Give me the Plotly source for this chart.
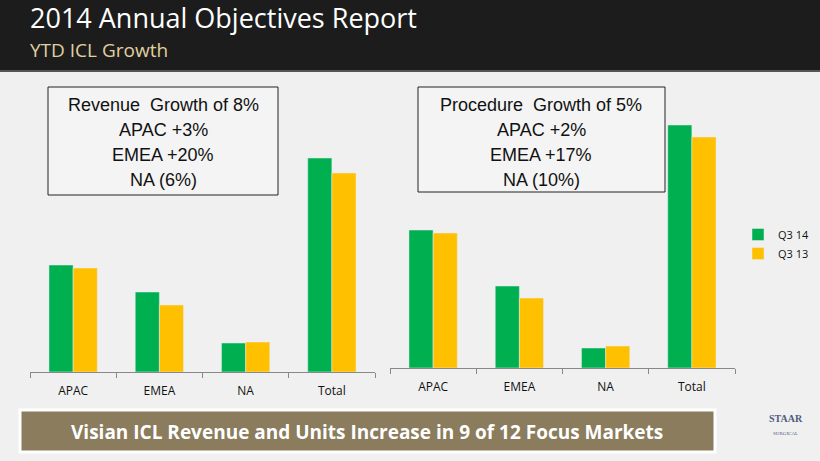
import plotly.graph_objects as go

cats = ["APAC", "EMEA", "NA", "Total"]
rev_q314 = [107, 80, 29, 214]
rev_q313 = [104, 67, 30, 199]
proc_q314 = [138, 82, 20, 243]
proc_q313 = [135, 70, 22, 231]
left_text = ["Revenue  Growth of 8%", "APAC +3%", "EMEA +20%", "NA (6%)"]
right_text = ["Procedure  Growth of 5%", "APAC +2%", "EMEA +17%", "NA (10%)"]

W, H = 820, 461
GREEN, GOLD = "#00b050", "#ffc000"
def px(x): return x / W
def py(y): return 1 - y / H

fig = go.Figure()
fig.add_bar(x=cats, y=rev_q314, name="Q3 14", marker_color=GREEN, xaxis="x", yaxis="y")
fig.add_bar(x=cats, y=rev_q313, name="Q3 13", marker_color=GOLD, xaxis="x", yaxis="y")
fig.add_bar(x=cats, y=proc_q314, name="Q3 14", marker_color=GREEN, xaxis="x2", yaxis="y2", showlegend=False)
fig.add_bar(x=cats, y=proc_q313, name="Q3 13", marker_color=GOLD, xaxis="x2", yaxis="y2", showlegend=False)

ax = dict(showgrid=False, showline=True, linecolor="#888", ticks="outside", tickcolor="#888",
          ticklen=5, tickson="boundaries", ticklabelstandoff=8,
          tickfont=dict(family="Open Sans", size=12, color="#111"), fixedrange=True)
ay = dict(visible=False, fixedrange=True)
fig.update_layout(
    width=W, height=H, margin=dict(l=0, r=0, t=0, b=0),
    paper_bgcolor="#f0f0f0", plot_bgcolor="rgba(0,0,0,0)",
    barmode="group", bargap=0.44, bargroupgap=0,
    xaxis=dict(domain=[px(30), px(375)], anchor="y", **ax),
    yaxis=dict(domain=[py(372), py(80)], range=[0, 292], **ay),
    xaxis2=dict(domain=[px(390), px(735)], anchor="y2", **ax),
    yaxis2=dict(domain=[py(368), py(80)], range=[0, 288], **ay),
    legend=dict(x=px(738), y=py(220), xanchor="left", yanchor="top",
                font=dict(family="Open Sans", size=11, color="#111"),
                bgcolor="rgba(0,0,0,0)", tracegroupgap=6),
    showlegend=True,
)

shapes = [
    dict(type="rect", xref="paper", yref="paper", x0=0, x1=1, y0=py(70), y1=1,
         fillcolor="#1c1c1c", line_width=0, layer="below"),
    dict(type="rect", xref="paper", yref="paper", x0=0, x1=1, y0=py(72), y1=py(70),
         fillcolor="#555", line_width=0, layer="below"),
    dict(type="rect", xref="paper", yref="paper", x0=px(48), x1=px(278), y0=py(195), y1=py(87),
         fillcolor="#f4f4f4", line=dict(color="#222", width=1)),
    dict(type="rect", xref="paper", yref="paper", x0=px(418), x1=px(665), y0=py(192), y1=py(87),
         fillcolor="#f4f4f4", line=dict(color="#222", width=1)),
    dict(type="rect", xref="paper", yref="paper", x0=px(20), x1=px(715), y0=py(452), y1=py(410),
         fillcolor="#8a7c5c", line=dict(color="#ffffff", width=3)),
]
ann = [
    dict(text="2014 Annual Objectives Report", x=px(28), y=py(17), xanchor="left", yanchor="middle",
         font=dict(family="Open Sans", size=27, color="#ffffff")),
    dict(text="YTD ICL Growth", x=px(28), y=py(50), xanchor="left", yanchor="middle",
         font=dict(family="Open Sans", size=19, color="#e0d0a0")),
    dict(text="<b>Visian ICL Revenue and Units Increase in 9 of 12 Focus Markets</b>", x=px(367), y=py(432),
         xanchor="center", yanchor="middle",
         font=dict(family="Open Sans", size=19, color="#ffffff")),
    dict(text="<b>STAAR</b><br><span style='font-size:5px'>SURGICAL</span>", x=px(786), y=py(424),
         xanchor="center", yanchor="middle", font=dict(family="Liberation Serif", size=10, color="#4a5a80")),
]
for cx, lines in ((163, left_text), (541, right_text)):
    for i, t in enumerate(lines):
        ann.append(dict(text=t, x=px(cx), y=py(105 + 25 * i), xanchor="center", yanchor="middle",
                        font=dict(family="Liberation Sans", size=18, color="#111")))
for a in ann:
    a.update(xref="paper", yref="paper", showarrow=False)
fig.update_layout(shapes=shapes, annotations=ann)
fig.write_html("out.html", config={"displayModeBar": False})

with open("out.html", encoding="utf-8") as f:
    html = f.read()
html = html.replace("<head>", "<head><style>html,body{margin:0;padding:0;overflow:hidden}</style>", 1)
with open("out.html", "w", encoding="utf-8") as f:
    f.write(html)
